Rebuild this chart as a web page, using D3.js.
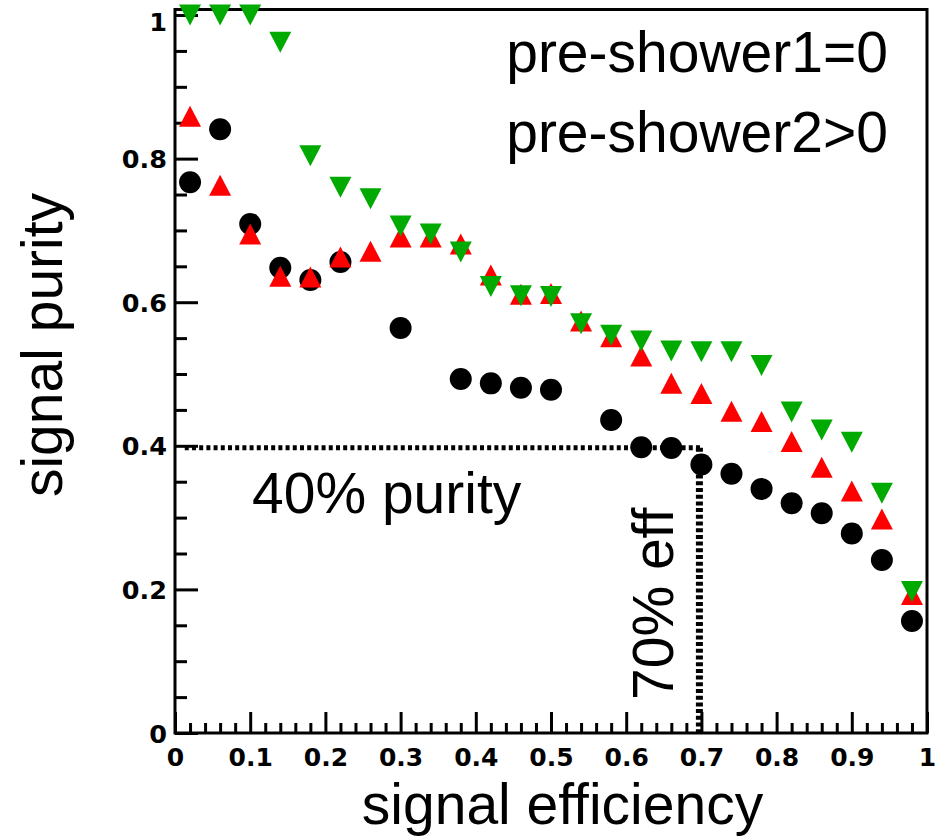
<!DOCTYPE html>
<html>
<head>
<meta charset="utf-8">
<script src="https://cdn.jsdelivr.net/npm/d3@7"></script>
<style>
  html, body { margin: 0; padding: 0; background: #fff; }
  svg { display: block; }
  text { font-family: "Liberation Sans", Arial, Helvetica, sans-serif; }
</style>
</head>
<body>
<script>
// Signal efficiency bins (bin centres)
const efficiency = [0.02, 0.06, 0.10, 0.14, 0.18, 0.22, 0.26, 0.30, 0.34, 0.38,
                    0.42, 0.46, 0.50, 0.54, 0.58, 0.62, 0.66, 0.70, 0.74, 0.78,
                    0.82, 0.86, 0.90, 0.94, 0.98];

// Signal purity for the three selections (null = no entry in that bin)
const purityCircle = [0.767, 0.841, 0.709, 0.648, 0.631, 0.656, null, 0.564, null, 0.493,
                      0.487, 0.481, 0.478, null, 0.436, 0.398, 0.397, 0.374, 0.361, 0.340,
                      0.320, 0.306, 0.278, 0.241, 0.156];
const purityUp     = [0.859, 0.763, 0.695, 0.636, 0.635, 0.663, 0.671, 0.691, 0.691, 0.681,
                      0.638, 0.611, 0.612, 0.574, 0.552, 0.525, 0.487, 0.473, 0.448, 0.434,
                      0.406, 0.370, 0.337, 0.298, 0.193];
const purityDown   = [1.000, 1.000, 1.000, 0.962, 0.804, 0.760, 0.744, 0.706, 0.695, 0.670,
                      0.622, 0.609, 0.608, 0.570, 0.554, 0.546, 0.532, 0.531, 0.531, 0.512,
                      0.447, 0.422, 0.405, 0.334, 0.197];

// Axis ticks and labels
const xMajor = [0, 0.1, 0.2, 0.3, 0.4, 0.5, 0.6, 0.7, 0.8, 0.9, 1];
const xLabels = ["0", "0.1", "0.2", "0.3", "0.4", "0.5", "0.6", "0.7", "0.8", "0.9", "1"];
const yMajor = [0, 0.2, 0.4, 0.6, 0.8, 1];
const yLabels = ["0", "0.2", "0.4", "0.6", "0.8", "1"];

// Reference cuts
const purityCut = 0.4;
const efficiencyCut = 0.7;

const W = 949, H = 837;
const frameLeft = 175, frameRight = 927, frameTop = 9.5, frameBottom = 733;

const svg = d3.select("body").append("svg").attr("width", W).attr("height", H);

const x = d3.scaleLinear().domain([0, 1]).range([frameLeft, frameRight]);
const y = d3.scaleLinear().domain([0, 1.0077]).range([frameBottom, frameTop]);

// minor tick positions
const xMinor = d3.range(0, 50).map(i => i * 0.02).filter(v => Math.abs(v * 10 - Math.round(v * 10)) > 1e-6);
const yMinor = d3.range(0, 21).map(i => i * 0.05).filter(v => Math.abs(v * 5 - Math.round(v * 5)) > 1e-6);

const tickFont = '"DejaVu Sans", Verdana, sans-serif';

function styleAxis(g) {
  g.select(".domain").remove();
  g.selectAll(".tick line").attr("stroke", "#000").attr("stroke-width", 3);
}

// bottom axis: ticks pointing into the frame
svg.append("g").attr("transform", `translate(0,${frameBottom})`)
  .call(d3.axisBottom(x).tickValues(xMinor).tickSize(-10).tickFormat(""))
  .call(styleAxis);
const gx = svg.append("g").attr("transform", `translate(0,${frameBottom})`)
  .call(d3.axisBottom(x).tickValues(xMajor).tickSize(-21).tickPadding(0)
        .tickFormat((d, i) => xLabels[i]))
  .call(styleAxis);
gx.selectAll(".tick text")
  .attr("y", 33).attr("dy", null)
  .attr("font-size", 25).attr("font-weight", "bold").attr("fill", "#000")
  .style("font-family", tickFont);

// left axis
svg.append("g").attr("transform", `translate(${frameLeft},0)`)
  .call(d3.axisLeft(y).tickValues(yMinor).tickSize(-12).tickFormat(""))
  .call(styleAxis);
const gy = svg.append("g").attr("transform", `translate(${frameLeft},0)`)
  .call(d3.axisLeft(y).tickValues(yMajor).tickSize(-23).tickPadding(0)
        .tickFormat((d, i) => yLabels[i]))
  .call(styleAxis);
gy.selectAll(".tick text")
  .attr("x", -8).attr("dy", "0.36em")
  .attr("font-size", 25.5).attr("font-weight", "bold").attr("fill", "#000")
  .style("font-family", tickFont);
gy.selectAll(".tick").filter(d => d === 1).select("text").attr("dy", "0.6em");

// frame
svg.append("rect")
  .attr("x", frameLeft).attr("y", frameTop)
  .attr("width", frameRight - frameLeft).attr("height", frameBottom - frameTop)
  .attr("fill", "none").attr("stroke", "#000").attr("stroke-width", 3);

// dotted reference lines
svg.append("line")
  .attr("x1", x(0.013)).attr("x2", x(efficiencyCut))
  .attr("y1", y(purityCut) + 2).attr("y2", y(purityCut) + 2)
  .attr("stroke", "#000").attr("stroke-width", 5).attr("stroke-dasharray", "4,3.2");
svg.append("line")
  .attr("x1", x(efficiencyCut) - 2).attr("x2", x(efficiencyCut) - 2)
  .attr("y1", y(purityCut) + 2).attr("y2", y(0))
  .attr("stroke", "#000").attr("stroke-width", 7).attr("stroke-dasharray", "4,2.7");

// markers
const pts = arr => efficiency.map((e, i) => ({ e, p: arr[i] })).filter(d => d.p !== null);

svg.append("g").selectAll("circle").data(pts(purityCircle)).join("circle")
  .attr("cx", d => x(d.e)).attr("cy", d => y(d.p)).attr("r", 11).attr("fill", "#000");

const hw = 11, hh = 10.5;
const upPath = `M0,${-hh}L${hw},${hh}L${-hw},${hh}Z`;
const downPath = `M${-hw},${-hh}L${hw},${-hh}L0,${hh}Z`;

svg.append("g").selectAll("path").data(pts(purityUp)).join("path")
  .attr("d", upPath)
  .attr("transform", d => `translate(${x(d.e)},${y(d.p)})`)
  .attr("fill", "#ff0000");

svg.append("g").selectAll("path").data(pts(purityDown)).join("path")
  .attr("d", downPath)
  .attr("transform", d => `translate(${x(d.e)},${y(d.p)})`)
  .attr("fill", "#00aa00");

// text annotations
const big = 57;
svg.append("text").attr("x", 888).attr("y", 72).attr("text-anchor", "end")
  .attr("font-size", big).text("pre-shower1=0");
svg.append("text").attr("x", 888).attr("y", 152).attr("text-anchor", "end")
  .attr("font-size", big).text("pre-shower2>0");
svg.append("text").attr("x", 252).attr("y", 513)
  .attr("font-size", big).text("40% purity");
svg.append("text").attr("transform", "translate(673,700) rotate(-90)")
  .attr("font-size", big).text("70% eff");

// axis titles
svg.append("text").attr("x", 562.5).attr("y", 824).attr("text-anchor", "middle")
  .attr("font-size", big).text("signal efficiency");
svg.append("text").attr("transform", "translate(62,345) rotate(-90)")
  .attr("text-anchor", "middle").attr("font-size", big).text("signal purity");
</script>
</body>
</html>
